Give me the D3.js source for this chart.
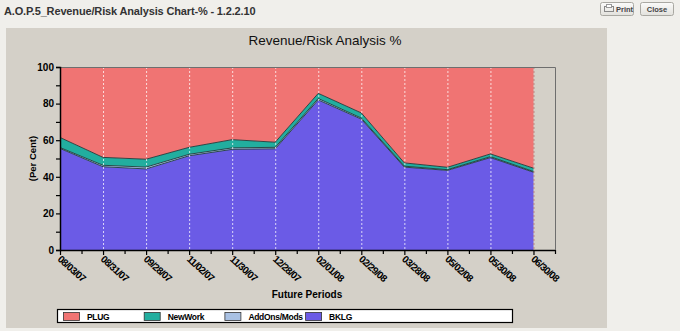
<!DOCTYPE html>
<html><head><meta charset="utf-8">
<script src="https://cdn.jsdelivr.net/npm/d3@7"></script>
<style>
html,body{margin:0;padding:0;background:#f0efeb;width:680px;height:331px;overflow:hidden;font-family:Arial,"Liberation Sans",sans-serif;}
</style></head><body>
<svg id="c" width="680" height="331"></svg>
<script>
const categories = ["08/03/07","08/31/07","09/28/07","11/02/07","11/30/07","12/28/07","02/01/08","02/29/08","03/28/08","05/02/08","05/30/08","06/30/08"];
const bklg    = [55.5, 45.5, 44.3, 51.5, 55.0, 55.3, 82.0, 71.5, 45.3, 43.5, 50.5, 42.5];
const addons  = [0.5, 0.8, 1.0, 0.8, 0.8, 0.8, 0.8, 0.6, 0.5, 0.4, 0.5, 0.4];
const newwork = [5.5, 4.3, 4.3, 3.8, 4.5, 2.8, 2.8, 2.8, 1.8, 1.3, 1.5, 1.8];
const plug    = bklg.map((v,i)=> +(100 - v - addons[i] - newwork[i]).toFixed(1));
const yTicks  = [0,20,40,60,80,100];
const seriesNames = ["BKLG","AddOns/Mods","NewWork","PLUG"];
const legendNames = ["PLUG","NewWork","AddOns/Mods","BKLG"];
const colors = {"PLUG":"#f07473","NewWork":"#22ae9f","AddOns/Mods":"#a9c1e3","BKLG":"#6b5be6"};

const svg = d3.select("#c");
// header
svg.append("text").attr("x",4).attr("y",15).attr("font-size",11).attr("font-weight","bold").attr("fill","#333").attr("letter-spacing",-0.15)
  .text("A.O.P.5_Revenue/Risk Analysis Chart-% - 1.2.2.10");
function button(x,w,label,icon){
  const g = svg.append("g");
  const grad = "g"+label;
  const defs = svg.append("defs").append("linearGradient").attr("id",grad).attr("x1",0).attr("y1",0).attr("x2",0).attr("y2",1);
  defs.append("stop").attr("offset","0%").attr("stop-color","#fbfbfa");
  defs.append("stop").attr("offset","100%").attr("stop-color","#e2e1dc");
  g.append("rect").attr("x",x+0.5).attr("y",2.5).attr("width",w).attr("height",13).attr("rx",2).attr("fill","url(#"+grad+")").attr("stroke","#a9a8a2");
  if(icon){
    g.append("rect").attr("x",x+4.5).attr("y",6.5).attr("width",9).attr("height",5).attr("fill","none").attr("stroke","#888");
    g.append("rect").attr("x",x+6.5).attr("y",4.5).attr("width",5).attr("height",3).attr("fill","#fff").attr("stroke","#999");
  }
  g.append("text").attr("x",icon? x+16 : x+w/2+0.5).attr("y",12).attr("text-anchor",icon?"start":"middle").attr("font-size",7.5).attr("font-weight","bold").attr("fill","#444").text(label);
}
button(600,33,"Print",true);
button(640,33,"Close",false);

// panel
svg.append("rect").attr("x",6).attr("y",28).attr("width",601).attr("height",300).attr("fill","#d4d0c8");
svg.append("text").attr("x",325).attr("y",45).attr("text-anchor","middle").attr("font-size",13.5).attr("fill","#111").text("Revenue/Risk Analysis %");

const L=60, R=555, T=67, B=250;
const x = d3.scaleLinear().domain([0,11.5]).range([L,R]);
const y = d3.scaleLinear().domain([0,100]).range([B,T]);

const table = categories.map((c,i)=>({i, "BKLG":bklg[i], "AddOns/Mods":addons[i], "NewWork":newwork[i], "PLUG":plug[i]}));
const stacked = d3.stack().keys(seriesNames)(table);
const area = d3.area().x(d=>x(d.data.i)).y0(d=>y(d[0])).y1(d=>y(d[1]));
const line = d3.line().x(d=>x(d.data.i)).y(d=>y(d[1]));

const plot = svg.append("g");
stacked.forEach(s=>{
  plot.append("path").datum(s).attr("d",area).attr("fill",colors[s.key]);
});
stacked.slice(0,3).forEach(s=>{
  plot.append("path").datum(s).attr("d",line).attr("fill","none").attr("stroke","#1e3c3c").attr("stroke-width",0.9);
});
// gridlines
categories.forEach((c,i)=>{
  if(i===0) return;
  plot.append("line").attr("x1",x(i)+0.5).attr("x2",x(i)+0.5).attr("y1",T).attr("y2",B)
    .attr("stroke", i===categories.length-1 ? "#b05a5a" : "#ffffff").attr("stroke-opacity",i===categories.length-1?0.6:0.75)
    .attr("stroke-dasharray","2,2").attr("stroke-width",1);
});
// border top/right
svg.append("path").attr("d",`M${L},${T+0.5}H${R+0.5}V${B}`).attr("fill","none").attr("stroke","#6e6e6e").attr("stroke-width",1);

// y axis
const yAxis = d3.axisLeft(y).tickValues(d3.range(0,101,10)).tickSize(4).tickPadding(2)
  .tickFormat(d=> yTicks.includes(d) ? d : "");
const ya = svg.append("g").attr("transform",`translate(${L},0)`).call(yAxis);
ya.select(".domain").attr("stroke","#000").attr("stroke-width",1.5);
ya.selectAll(".tick line").attr("stroke","#000").attr("stroke-width",1.2);
ya.selectAll(".tick text").attr("font-size",10).attr("font-weight","bold").attr("fill","#000").attr("font-family","Arial, Liberation Sans, sans-serif");

// x axis
const xAxis = d3.axisBottom(x).tickValues(d3.range(0,11.6,0.5)).tickSize(4).tickFormat("");
const xa = svg.append("g").attr("transform",`translate(0,${B})`).call(xAxis);
xa.select(".domain").attr("stroke","#000").attr("stroke-width",1.5).attr("d",`M${L},0.5H${R}`);
xa.selectAll(".tick line").attr("stroke","#000").attr("stroke-width",1.2).attr("y2",d=> Number.isInteger(d)?5:4);
categories.forEach((c,i)=>{
  svg.append("text").attr("transform",`translate(${x(i)-3},${B+10}) rotate(42)`)
    .attr("font-size",10).attr("font-weight","bold").attr("fill","#000").attr("letter-spacing",-0.7).text(c);
});
svg.append("text").attr("x",307).attr("y",298).attr("text-anchor","middle").attr("font-size",10).attr("font-weight","bold").attr("fill","#000").text("Future Periods");
svg.append("text").attr("transform",`translate(36,${(T+B)/2}) rotate(-90)`).attr("text-anchor","middle")
  .attr("font-size",9.5).attr("font-weight","bold").attr("fill","#000").text("(Per Cent)");

// legend
svg.append("rect").attr("x",57.5).attr("y",309.5).attr("width",455).attr("height",13).attr("fill","#fff").attr("stroke","#000").attr("stroke-width",1.2);
legendNames.forEach((n,i)=>{
  const lx = 63 + i*80.7;
  svg.append("rect").attr("x",lx+0.5).attr("y",312.5).attr("width",16).attr("height",8).attr("fill",colors[n]).attr("stroke","#333").attr("stroke-width",0.8);
  svg.append("text").attr("x",lx+24).attr("y",320).attr("font-size",8.5).attr("font-weight","bold").attr("fill","#000").attr("letter-spacing",-0.3).text(n);
});
</script>
</body></html>
